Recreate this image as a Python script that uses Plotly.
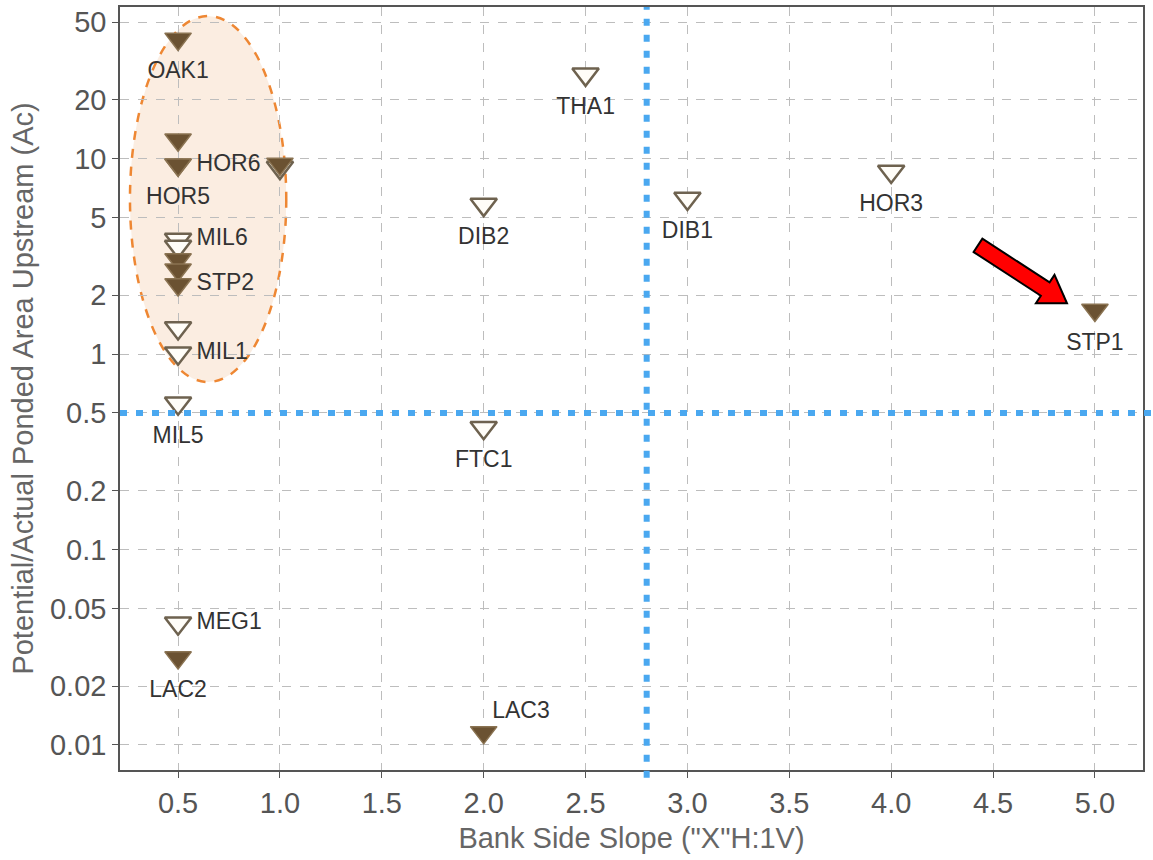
import plotly.graph_objects as go
import math

# ---------------- data ----------------
filled_names = ["OAK1", "", "HOR5", "HOR6", "", "", "STP2", "LAC2", "LAC3", "STP1", ""]
filled_x = [0.5, 0.5, 0.5, 0.5, 0.5, 0.5, 0.5, 0.5, 2.0, 5.0, 1.0]
filled_y = [41, 12.5, 9.3, 9.3, 3.05, 2.7, 2.27, 0.028, 0.0116, 1.68, 9.4]
filled_pos = ["bottom center", "bottom center", "bottom center", "middle right", "bottom center",
              "bottom center", "middle right", "bottom center", "top right", "bottom center", "bottom center"]

open_names = ["MIL6", "", "", "MIL1", "MIL5", "MEG1", "FTC1", "DIB2", "THA1", "DIB1", "HOR3", ""]
open_x = [0.5, 0.5, 0.5, 0.5, 0.5, 0.5, 2.0, 2.0, 2.5, 3.0, 4.0, 1.0]
open_y = [3.86, 3.55, 1.36, 1.01, 0.56, 0.042, 0.42, 5.82, 27, 6.25, 8.6, 9.0]
open_pos = ["middle right", "bottom center", "bottom center", "middle right", "bottom center",
            "middle right", "bottom center", "bottom center", "bottom center", "bottom center",
            "bottom center", "bottom center"]

x_ticks = [0.5, 1.0, 1.5, 2.0, 2.5, 3.0, 3.5, 4.0, 4.5, 5.0]
x_ticktext = ["0.5", "1.0", "1.5", "2.0", "2.5", "3.0", "3.5", "4.0", "4.5", "5.0"]
y_ticks = [0.01, 0.02, 0.05, 0.1, 0.2, 0.5, 1, 2, 5, 10, 20, 50]
y_ticktext = ["0.01", "0.02", "0.05", "0.1", "0.2", "0.5", "1", "2", "5", "10", "20", "50"]

threshold_x = 2.8
threshold_y = 0.5

# ---------------- layout constants ----------------
W, H = 1153, 860
ML, MR, MT, MB = 120, 10, 5, 90
PW, PH = W - ML - MR, H - MT - MB
FONT = "Liberation Sans, Arial, sans-serif"
MARKER_SIZE = 23

fig = go.Figure()

fig.add_trace(go.Scatter(
    x=open_x, y=open_y, mode="markers",
    marker=dict(symbol="triangle-down", size=MARKER_SIZE, color="#fffdf8",
                line=dict(color="#6e624f", width=2.5)),
    cliponaxis=False, showlegend=False, hoverinfo="skip"))

fig.add_trace(go.Scatter(
    x=filled_x, y=filled_y, mode="markers",
    marker=dict(symbol="triangle-down", size=MARKER_SIZE, color="#6b5232",
                line=dict(color="#8a7352", width=1.5)),
    cliponaxis=False, showlegend=False, hoverinfo="skip"))

# labels: text-only trace with invisible spacer markers to set label offsets
lab_x = open_x + filled_x
lab_y = open_y + filled_y
lab_t = open_names + filled_names
lab_p = open_pos + filled_pos
spacer = {"top right": 12, "middle right": 28, "bottom center": 34}
lab_s = [spacer[p] for p in lab_p]
fig.add_trace(go.Scatter(
    x=lab_x, y=lab_y, mode="markers+text", text=lab_t, textposition=lab_p,
    marker=dict(size=lab_s, opacity=0),
    textfont=dict(family=FONT, size=23, color="#333333"),
    cliponaxis=False, showlegend=False, hoverinfo="skip"))

shapes = []
# highlight ellipse
shapes.append(dict(type="circle", xref="x", yref="y", x0=0.264, x1=1.031, y0=0.72, y1=53.7,
                   line=dict(color="#ee8733", width=2.5, dash="dash"),
                   fillcolor="rgba(246,214,188,0.45)", layer="below"))
# threshold lines
shapes.append(dict(type="line", xref="x", yref="paper", x0=threshold_x, x1=threshold_x, y0=-0.01, y1=1,
                   line=dict(color="#4aa8f0", width=6, dash="7px,9px"), layer="above"))
shapes.append(dict(type="line", xref="paper", yref="y", x0=0, x1=(W - ML) / PW, y0=threshold_y, y1=threshold_y,
                   line=dict(color="#4aa8f0", width=6, dash="7px,9px"), layer="above"))

# red arrow (pixel geometry -> paper coords)
tail = (978.0, 244.0)
tip = (1067.0, 302.0)
shaft_hw, head_hw, head_len = 8.0, 17.0, 26.0
dx, dy = tip[0] - tail[0], tip[1] - tail[1]
L = math.hypot(dx, dy)
ux, uy = dx / L, dy / L
nx, ny = -uy, ux
bx, by = tip[0] - ux * head_len, tip[1] - uy * head_len
pts = [
    (tail[0] + nx * shaft_hw, tail[1] + ny * shaft_hw),
    (bx + nx * shaft_hw, by + ny * shaft_hw),
    (bx + nx * head_hw, by + ny * head_hw),
    tip,
    (bx - nx * head_hw, by - ny * head_hw),
    (bx - nx * shaft_hw, by - ny * shaft_hw),
    (tail[0] - nx * shaft_hw, tail[1] - ny * shaft_hw),
]
def to_paper(p):
    return ((p[0] - ML) / PW, 1 - (p[1] - MT) / PH)
path = "M " + " L ".join(f"{to_paper(p)[0]:.5f},{to_paper(p)[1]:.5f}" for p in pts) + " Z"
shapes.append(dict(type="path", xref="paper", yref="paper", path=path,
                   fillcolor="#ff0000", line=dict(color="#000000", width=2), layer="above"))

axis_common = dict(
    showline=True, linecolor="#555555", linewidth=1.5, mirror=True,
    ticks="outside", ticklen=6, tickcolor="#555555",
    showgrid=True, gridcolor="#bdbdbd", gridwidth=1, griddash="dash",
    zeroline=False,
)

fig.update_layout(
    width=W, height=H,
    margin=dict(l=ML, r=MR, t=MT, b=MB),
    plot_bgcolor="white", paper_bgcolor="white",
    font=dict(family=FONT, color="#555555"),
    shapes=shapes,
    xaxis=dict(range=[0.215, 5.236], tickmode="array", tickvals=x_ticks, ticktext=x_ticktext,
               tickfont=dict(size=29, color="#555555"),
               title=dict(text='Bank Side Slope ("X"H:1V)', font=dict(size=29, color="#666666"), standoff=10),
               **axis_common),
    yaxis=dict(type="log", range=[-2.128, 1.776], tickmode="array", tickvals=y_ticks, ticktext=y_ticktext,
               tickfont=dict(size=29, color="#555555"),
               title=dict(text="Potential/Actual Ponded Area Upstream (Ac)", font=dict(size=29, color="#666666"),
                          standoff=8),
               **axis_common),
)

fig.write_html("out.html")
